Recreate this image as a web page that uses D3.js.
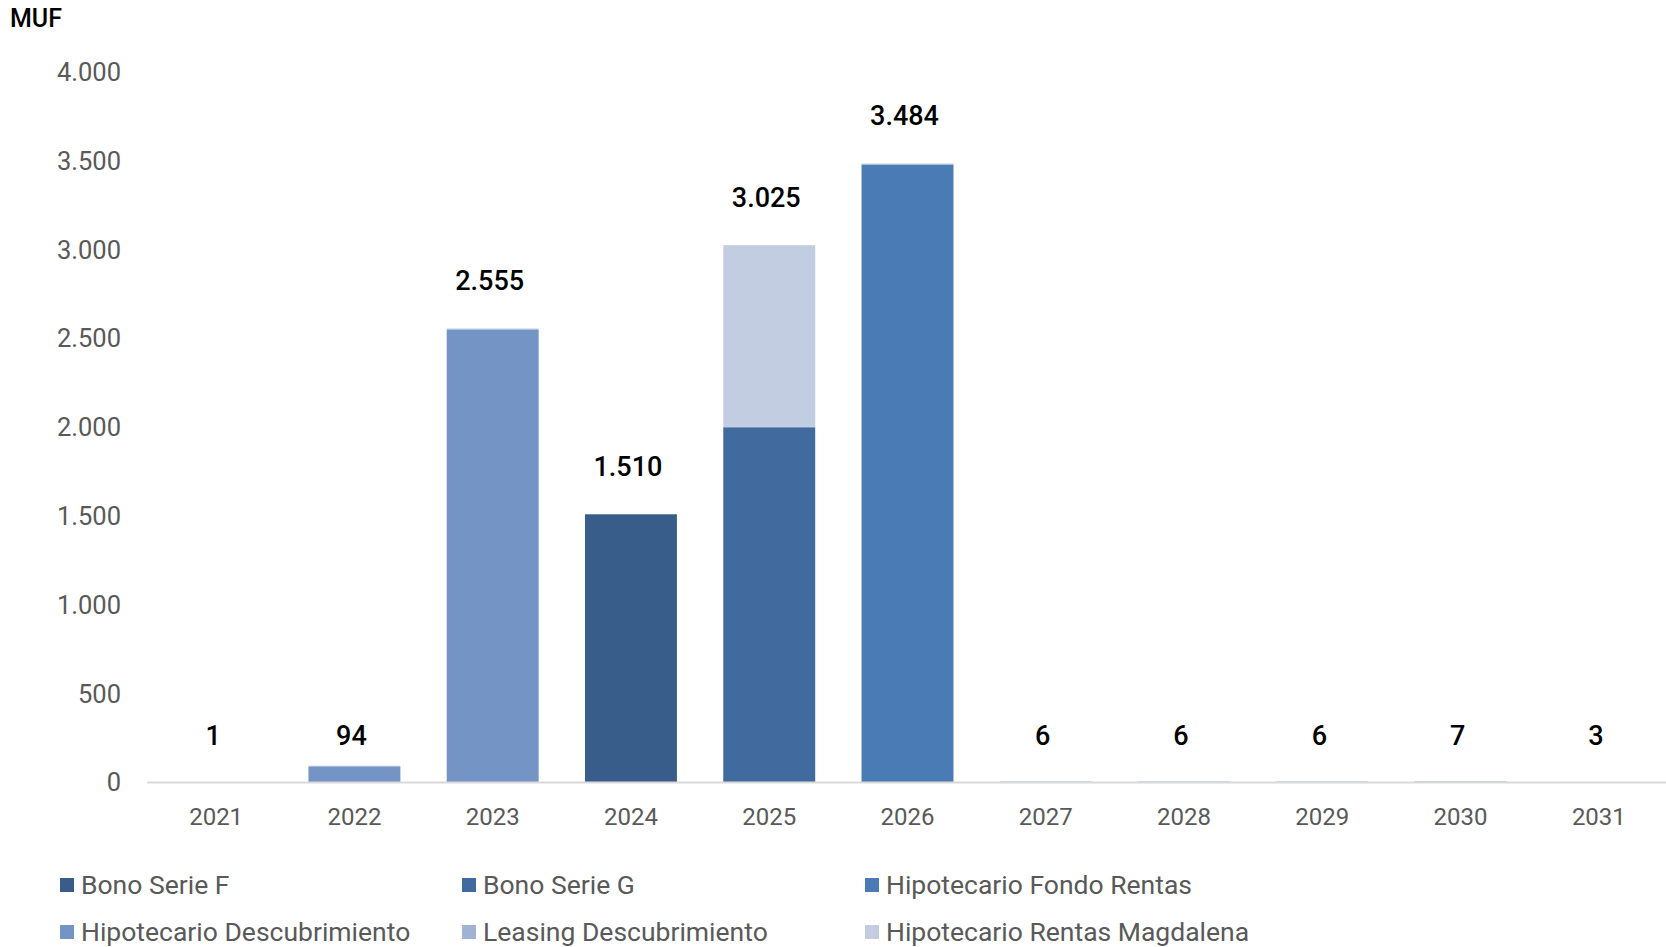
<!DOCTYPE html>
<html>
<head>
<meta charset="utf-8">
<script src="https://cdn.jsdelivr.net/npm/d3@7/dist/d3.min.js"></script>
<style>
  html, body { margin: 0; padding: 0; background: #fff; }
  svg { display: block; font-family: Roboto, "Noto Sans", sans-serif; }
</style>
</head>
<body>
<svg id="chart" width="1666" height="947"></svg>
<script>
// Amortization schedule by year (MUF)
const years = ["2021","2022","2023","2024","2025","2026","2027","2028","2029","2030","2031"];
const seriesNames = [
  "Bono Serie F",
  "Bono Serie G",
  "Hipotecario Fondo Rentas",
  "Hipotecario Descubrimiento",
  "Leasing Descubrimiento",
  "Hipotecario Rentas Magdalena"
];
const bonoSerieF              = [0, 0,    0, 1510,    0,    0, 0, 0, 0, 0, 0];
const bonoSerieG              = [0, 0,    0,    0, 2000,    0, 0, 0, 0, 0, 0];
const hipotecarioFondoRentas  = [0, 0,    0,    0,    0, 3478, 0, 0, 0, 0, 0];
const hipotecarioDescub       = [0, 88, 2549,   0,    0,    0, 0, 0, 0, 0, 0];
const leasingDescub           = [1, 6,    6,    0,    5,    6, 6, 6, 6, 7, 3];
const hipotecarioMagdalena    = [0, 0,    0,    0, 1020,    0, 0, 0, 0, 0, 0];
const yTicks = [0, 500, 1000, 1500, 2000, 2500, 3000, 3500, 4000];
const colors = ["#385d8a", "#416b9e", "#4a7bb4", "#7394c5", "#a0b3d5", "#c3cde2"];

const seriesValues = [bonoSerieF, bonoSerieG, hipotecarioFondoRentas, hipotecarioDescub, leasingDescub, hipotecarioMagdalena];
const rows = years.map((y, i) => {
  const r = { year: y };
  seriesNames.forEach((s, k) => { r[s] = seriesValues[k][i]; });
  return r;
});
const totals = years.map((y, i) => d3.sum(seriesValues, s => s[i]));

const svg = d3.select("#chart");
const fmt = d3.formatLocale({ decimal: ",", thousands: ".", grouping: [3], currency: ["", ""] }).format(",d");

const x = d3.scaleBand().domain(years).range([147, 1668]).paddingInner(0.335).paddingOuter(0.1675);
const y = d3.scaleLinear().domain([0, 4000]).range([782.5, 72]);

// unit label
svg.append("text").attr("x", 10).attr("y", 27).attr("font-size", 25).attr("font-weight", 500)
  .attr("fill", "#000").text("MUF");

// y tick labels
svg.append("g").selectAll("text").data(yTicks).join("text")
  .attr("x", 121).attr("y", d => y(d)).attr("dy", "0.35em")
  .attr("text-anchor", "end").attr("font-size", 25.5).attr("fill", "#595959")
  .text(d => fmt(d));

// stacked bars
const stack = d3.stack().keys(seriesNames)(rows);
svg.append("g").selectAll("g").data(stack).join("g")
  .attr("fill", (d, i) => colors[i])
  .selectAll("rect").data(d => d).join("rect")
  .attr("x", d => x(d.data.year))
  .attr("width", x.bandwidth())
  .attr("y", d => y(d[1]))
  .attr("height", d => Math.max(0, y(d[0]) - y(d[1])));

// baseline
svg.append("line").attr("x1", 147).attr("x2", 1666).attr("y1", y(0)).attr("y2", y(0))
  .attr("stroke", "#d9d9d9").attr("stroke-width", 2);

// category labels
svg.append("g").selectAll("text").data(years).join("text")
  .attr("x", d => x(d) + x.bandwidth() / 2).attr("y", 817).attr("dy", "0.35em")
  .attr("text-anchor", "middle").attr("font-size", 24).attr("fill", "#595959")
  .text(d => d);

// total labels; small totals share one row just above the baseline
svg.append("g").selectAll("text").data(years).join("text")
  .attr("x", d => x(d) + x.bandwidth() / 2 - 3)
  .attr("y", (d, i) => totals[i] < 200 ? y(0) - 47 : y(totals[i]) - 48).attr("dy", "0.35em")
  .attr("text-anchor", "middle").attr("font-size", 27).attr("font-weight", 500)
  .attr("fill", "#000")
  .text((d, i) => fmt(totals[i]));

// legend
const legendCols = [60, 462, 865];
const legendRows = [885, 932];
const legend = svg.append("g").selectAll("g").data(seriesNames).join("g")
  .attr("transform", (d, i) => `translate(${legendCols[i % 3]},${legendRows[Math.floor(i / 3)]})`);
legend.append("rect").attr("x", 0).attr("y", -7).attr("width", 14).attr("height", 14)
  .attr("fill", (d, i) => colors[i]);
legend.append("text").attr("x", 21).attr("y", 0).attr("dy", "0.35em")
  .attr("font-size", 26.5).attr("fill", "#595959").text(d => d);
</script>
</body>
</html>
